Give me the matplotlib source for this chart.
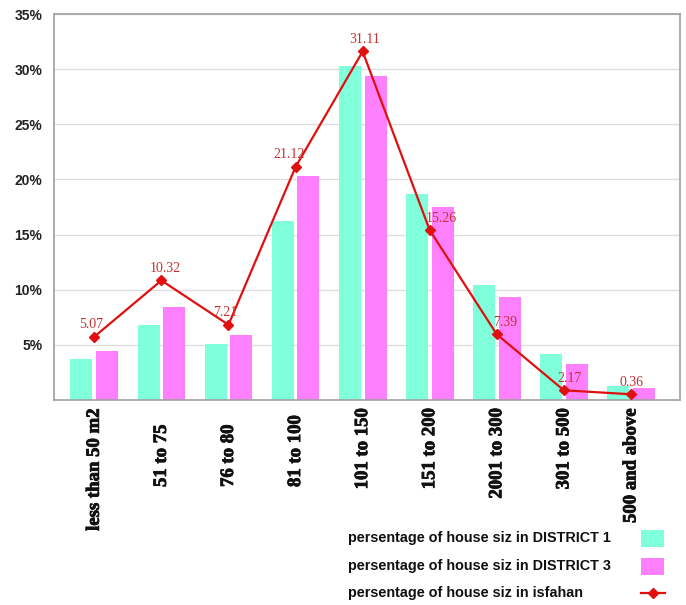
import numpy as np
import matplotlib
matplotlib.use('Agg')
import matplotlib.pyplot as plt
from matplotlib.lines import Line2D
from matplotlib.patches import Rectangle
import matplotlib.patheffects as pe

categories = ['less than 50 m2', '51 to 75', '76 to 80', '81 to 100', '101 to 150',
              '151 to 200', '2001 to 300', '301 to 500', '500 and above']
district1 = [3.7, 6.8, 5.1, 16.2, 30.3, 18.7, 10.4, 4.2, 1.3]
district3 = [4.4, 8.4, 5.9, 20.3, 29.4, 17.5, 9.3, 3.3, 1.1]
# isfahan line as drawn, and the value labels printed next to it
isfahan = [5.74, 10.84, 6.82, 21.13, 31.6, 15.4, 5.95, 0.88, 0.52]
isfahan_labels = ['5.07', '10.32', '7.21', '21.12', '31.11', '15.26', '7.39', '2.17', '0.36']
yticks = [5, 10, 15, 20, 25, 30, 35]
legend_labels = ['persentage of house siz in DISTRICT 1',
                 'persentage of house siz in DISTRICT 3',
                 'persentage of house siz in isfahan']

c_d1 = '#80ffdb'
c_d3 = '#ff80ff'
c_line = '#e01010'
c_lab = '#c83030'
grey = '#a0a0a0'

W, H = 686, 605
fig = plt.figure(figsize=(W / 100, H / 100), dpi=100)
ax = fig.add_axes([54 / W, 1 - 400 / H, 626 / W, 386 / H])

x = np.arange(len(categories))
w = 0.328
off = 0.192
ax.bar(x - off, district1, w, color=c_d1, zorder=2)
ax.bar(x + off, district3, w, color=c_d3, zorder=2)
ax.plot(x, isfahan, color=c_line, lw=1.6, marker='D', ms=5, zorder=3)

# small horizontal nudges of the value labels, in pixels
label_dx = [-3, 4, -3, -6, 2, 12, 8, 6, 1]
for xi, yi, txt, dx in zip(x, isfahan, isfahan_labels, label_dx):
    ax.annotate(txt, (xi, yi), xytext=(dx * 0.72, 4), textcoords='offset points',
                ha='center', va='bottom', fontsize=10, color=c_lab,
                family='Liberation Serif', zorder=4)

ax.set_xlim(-0.601, 8.731)
ax.set_ylim(0, 35)
ax.set_yticks(yticks)
ax.set_yticklabels([f'{t}%' for t in yticks], fontsize=10, fontweight='bold',
                   family='Liberation Sans', color='#222222')
ax.tick_params(axis='y', length=0, pad=8.5)
ax.set_xticks([])
ax.grid(axis='y', color='#dddddd', lw=1, zorder=0)
for s in ax.spines.values():
    s.set_color(grey)
    s.set_linewidth(1.2)

# a thin stroke to get the heavy look of the original labels
effects = [pe.withStroke(linewidth=0.6, foreground='#111111')]

# category labels: bottom-aligned, long ones pushed up to sit under the axis
fig.canvas.draw()
r = fig.canvas.get_renderer()
ax_h = 386.0
for xi, cat in zip(x, categories):
    t = ax.text(xi, -(487 - 400) / ax_h, cat, transform=ax.get_xaxis_transform(),
                rotation=90, ha='center', va='bottom', fontsize=13.5,
                fontweight='bold', family='Liberation Serif', color='#111111',
                path_effects=effects)
    bb = t.get_window_extent(r)
    if H - bb.y1 < 408:
        t.set_va('top')
        t.set_y(-(408 - 400) / ax_h)

# legend: text on the left, keys on the right
rows_y = [538, 566, 593]
for i, (lab, yy) in enumerate(zip(legend_labels, rows_y)):
    fy = 1 - yy / H
    fig.text(348 / W, fy, lab, ha='left', va='center', fontsize=10.4,
             fontweight='bold', family='Liberation Sans', color='#111111')
    if i < 2:
        fig.add_artist(Rectangle((641 / W, fy - 8.5 / H), 23 / W, 17 / H,
                                 transform=fig.transFigure,
                                 facecolor=[c_d1, c_d3][i], edgecolor='none'))
    else:
        fig.add_artist(Line2D([641 / W, 665 / W], [fy, fy], transform=fig.transFigure,
                              color=c_line, lw=1.6))
        fig.add_artist(Line2D([653 / W], [fy], transform=fig.transFigure,
                              color=c_line, marker='D', ms=5, lw=0))

plt.savefig('out.png', dpi=100)
